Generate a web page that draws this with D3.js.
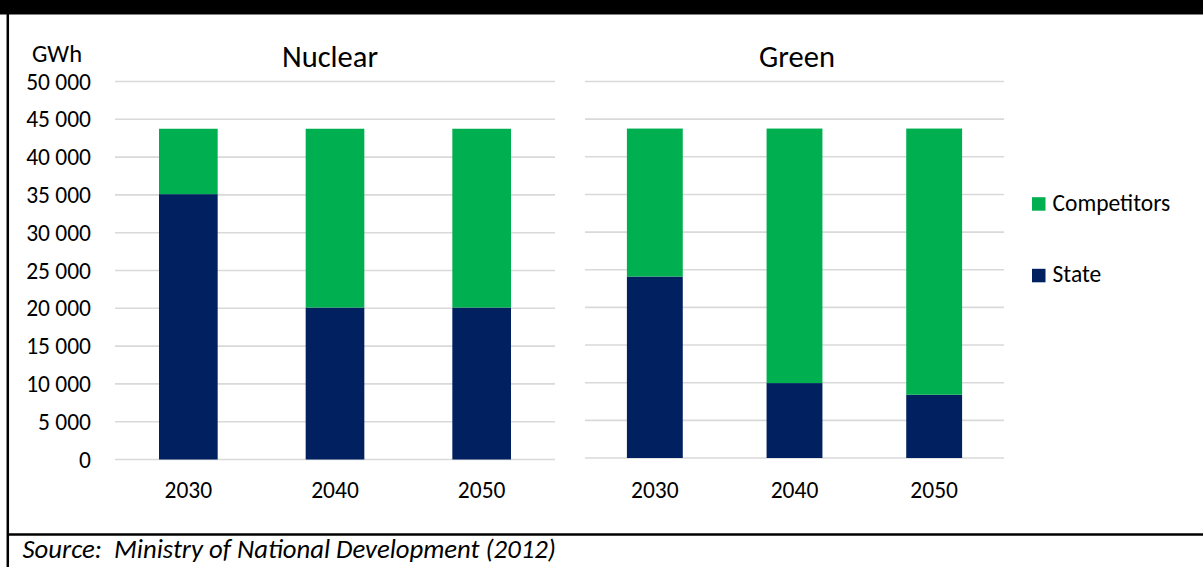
<!DOCTYPE html>
<html>
<head>
<meta charset="utf-8">
<script src="https://cdn.jsdelivr.net/npm/d3@7"></script>
<style>
  html, body { margin: 0; padding: 0; background: #fff; }
  svg { display: block; font-family: Carlito, Calibri, "Open Sans", sans-serif; }
  text { fill: #000; }
</style>
</head>
<body>
<svg id="chart" width="1203" height="567"></svg>
<script>
// Electricity generation split by owner, GWh
const years = ["2030", "2040", "2050"];
const nuclearState = [35100, 20100, 20100];
const nuclearCompetitors = [8650, 23650, 23650];
const greenState = [24100, 9950, 8400];
const greenCompetitors = [19650, 33800, 35350];
const yTicks = [0, 5000, 10000, 15000, 20000, 25000, 30000, 35000, 40000, 45000, 50000];
const seriesNames = ["Competitors", "State"];
const colors = { State: "#002060", Competitors: "#00B050" };
const unitLabel = "GWh";
const sourceText = "Source:  Ministry of National Development (2012)";

const svg = d3.select("#chart");
const W = 1203, H = 567;

const fmt = v => d3.format(",")(v).replace(/,/g, " ");

// frame: black header band, left rule, footer rule
svg.append("rect").attr("x", 0).attr("y", 0).attr("width", W).attr("height", 14.5).attr("fill", "#000");
svg.append("line").attr("x1", 7.8).attr("x2", 7.8).attr("y1", 0).attr("y2", H)
  .attr("stroke", "#000").attr("stroke-width", 2.5);
svg.append("line").attr("x1", 7).attr("x2", W).attr("y1", 534.5).attr("y2", 534.5)
  .attr("stroke", "#000").attr("stroke-width", 2.5);

function panel(title, titleX, xRange, yRange, state, competitors, showAxis) {
  const x = d3.scaleBand().domain(years).range(xRange).paddingInner(0.6).paddingOuter(0.3);
  const y = d3.scaleLinear().domain([0, 50000]).range(yRange);
  const g = svg.append("g");

  // gridlines
  g.selectAll("line.grid").data(yTicks).join("line")
    .attr("class", "grid")
    .attr("x1", xRange[0]).attr("x2", xRange[1])
    .attr("y1", d => y(d)).attr("y2", d => y(d))
    .attr("stroke", "#d9d9d9").attr("stroke-width", 1.6);

  // stacked bars
  const rows = years.map((yr, i) => ({ year: yr, State: state[i], Competitors: competitors[i] }));
  const stacked = d3.stack().keys(["State", "Competitors"])(rows);
  g.selectAll("g.series").data(stacked).join("g")
    .attr("class", "series")
    .attr("fill", s => colors[s.key])
    .selectAll("rect").data(s => s).join("rect")
    .attr("x", d => x(d.data.year))
    .attr("width", x.bandwidth())
    .attr("y", d => y(d[1]))
    .attr("height", d => y(d[0]) - y(d[1]));

  // category labels
  g.selectAll("text.cat").data(years).join("text")
    .attr("class", "cat")
    .attr("x", d => x(d) + x.bandwidth() / 2)
    .attr("y", 497.5)
    .attr("text-anchor", "middle")
    .style("font-size", "23.5px")
    .text(d => d);

  // panel title
  g.append("text")
    .attr("x", titleX)
    .attr("y", 66.5)
    .attr("text-anchor", "middle")
    .style("font-size", "30.5px")
    .text(title);

  if (showAxis) {
    const axis = d3.axisLeft(y).tickValues(yTicks).tickFormat(fmt).tickSize(0).tickPadding(0);
    const ag = g.append("g").attr("transform", `translate(91,0)`).call(axis)
      .attr("font-family", null).attr("font-size", null);
    ag.select(".domain").remove();
    ag.selectAll("text").style("font-size", "23.5px").attr("fill", "#000");
  }
}

panel("Nuclear", 330, [115, 555], [459.5, 81.5], nuclearState, nuclearCompetitors, true);
panel("Green", 797, [585, 1004], [458, 81.5], greenState, greenCompetitors, false);

// unit label
svg.append("text").attr("x", 57).attr("y", 61.5)
  .attr("text-anchor", "middle")
  .style("font-size", "24.5px").text(unitLabel);

// legend
const legend = svg.append("g");
const legendY = d3.scalePoint().domain(seriesNames).range([210.7, 282.3]);
seriesNames.forEach(name => {
  legend.append("rect").attr("x", 1032).attr("y", legendY(name) - 13.5)
    .attr("width", 13.5).attr("height", 13.5).attr("fill", colors[name]);
  legend.append("text").attr("x", 1052.5).attr("y", legendY(name))
    .style("font-size", "23.5px").text(name);
});

// source note
svg.append("text").attr("x", 22.5).attr("y", 557.5)
  .style("font-size", "26.7px").style("font-style", "italic")
  .attr("xml:space", "preserve").style("white-space", "pre")
  .text(sourceText);
</script>
</body>
</html>
